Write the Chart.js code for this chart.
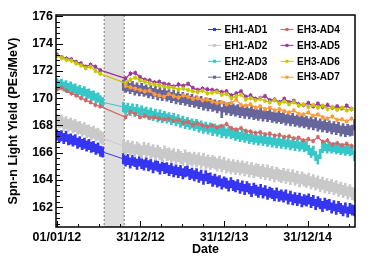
<!DOCTYPE html>
<html>
<head>
<meta charset="utf-8">
<script src="https://cdn.jsdelivr.net/npm/chart.js@4.4.1/dist/chart.umd.min.js"></script>
<style>
  html, body { margin: 0; padding: 0; background: #fff; }
</style>
</head>
<body>
<canvas id="myChart" width="374" height="266"></canvas>
<script>
// axis labels (days counted from 01/01/12)
const tickDays = [0, 365, 730, 1095];
const tickLabels = ['01/01/12', '31/12/12', '31/12/13', '31/12/14'];
const yTicks = [162, 164, 166, 168, 170, 172, 174, 176];
const gapDays = [207, 294]; // period with no data

// sampling of the daily (EH1/EH2) and 3-weekly (EH3) points
function sampleDays(from, to, step) {
  const out = [];
  for (let d = from; d <= to; d += step) out.push(d);
  return out;
}
const dailyA = sampleDays(0, 200, 10);
const dailyB = sampleDays(290, 1300, 10);
const weeklyA = sampleDays(0, 189, 21);
const weeklyB = sampleDays(300, 1287, 21);

// EH1-AD1
const ad1A = [167.3, 167.15, 167.25, 167.05, 167.2, 166.95, 167.0, 166.85, 166.95, 166.7, 166.8,
  166.6, 166.7, 166.5, 166.6, 166.4, 166.45, 166.25, 166.35, 166.1, 166.05];
const ad1B = [165.55, 165.4, 165.5, 165.25, 165.45, 165.35, 165.15, 165.4, 165.2, 165.1,
  165.3, 165.05, 165.15, 164.9, 165.1, 165.0, 164.8, 165.05, 164.85, 164.9,
  164.7, 164.85, 164.6, 164.75, 164.55, 164.7, 164.45, 164.6, 164.65, 164.4,
  164.5, 164.3, 164.45, 164.2, 164.35, 164.05, 164.3, 164.1, 164.15, 163.9,
  164.05, 163.85, 163.95, 163.7, 163.85, 163.75, 163.55, 163.8, 163.6, 163.5,
  163.65, 163.4, 163.55, 163.3, 163.5, 163.35, 163.15, 163.4, 163.25, 163.1,
  163.3, 163.05, 163.2, 162.95, 163.1, 163.0, 162.85, 163.05, 162.8, 162.9,
  162.75, 162.9, 162.6, 162.8, 162.55, 162.7, 162.5, 162.65, 162.4, 162.55,
  162.45, 162.6, 162.35, 162.5, 162.2, 162.4, 162.25, 162.05, 162.3, 162.15,
  162.2, 161.95, 162.1, 161.85, 162.05, 161.9, 161.75, 161.95, 161.65, 161.9,
  161.8, 161.75];

// EH1-AD2
const ad2A = [168.35, 168.25, 168.3, 168.1, 168.2, 168.0, 168.1, 167.9, 168.0, 167.8, 167.85,
  167.65, 167.75, 167.55, 167.6, 167.4, 167.5, 167.3, 167.35, 167.15, 167.05];
const ad2B = [166.5, 166.3, 166.45, 166.25, 166.4, 166.15, 166.35, 166.2, 166.05, 166.3,
  166.1, 166.25, 166.0, 166.15, 165.9, 166.1, 165.95, 165.8, 166.05, 165.85,
  165.9, 165.7, 165.85, 165.6, 165.8, 165.65, 165.5, 165.75, 165.55, 165.6,
  165.45, 165.6, 165.4, 165.55, 165.3, 165.5, 165.25, 165.4, 165.2, 165.35,
  165.25, 165.1, 165.3, 165.05, 165.2, 164.95, 165.1, 164.9, 165.05, 164.85,
  165.0, 164.8, 164.95, 164.75, 164.9, 164.65, 164.85, 164.6, 164.75, 164.7,
  164.55, 164.7, 164.45, 164.65, 164.4, 164.55, 164.3, 164.5, 164.35, 164.25,
  164.4, 164.2, 164.35, 164.1, 164.3, 164.05, 164.2, 163.95, 164.15, 164.0,
  163.9, 164.05, 163.8, 163.95, 163.7, 163.85, 163.6, 163.75, 163.5, 163.65,
  163.45, 163.6, 163.35, 163.5, 163.25, 163.4, 163.15, 163.3, 163.05, 163.2,
  163.0, 162.9];

// EH2-AD3
const ad3A = [171.1, 170.95, 171.05, 170.85, 170.95, 170.75, 170.85, 170.65, 170.7, 170.5, 170.6,
  170.4, 170.5, 170.3, 170.35, 170.15, 170.2, 170.0, 170.05, 169.85, 169.7];
const ad3B = [169.35, 169.15, 169.3, 169.05, 169.25, 169.0, 169.2, 168.95, 169.1, 168.9,
  169.0, 168.8, 168.95, 168.7, 168.85, 168.6, 168.8, 168.55, 168.7, 168.5,
  168.6, 168.4, 168.55, 168.3, 168.45, 168.2, 168.35, 168.1, 168.25, 168.05,
  168.15, 167.95, 168.1, 167.85, 168.0, 167.75, 167.9, 167.7, 167.85, 167.6,
  167.75, 167.55, 167.7, 167.45, 167.6, 167.4, 167.55, 167.35, 167.45, 167.25,
  167.35, 167.15, 167.3, 167.1, 167.25, 167.0, 167.15, 166.95, 167.1, 166.9,
  167.05, 166.85, 167.0, 166.8, 166.95, 166.75, 166.9, 166.7, 166.85, 166.65,
  166.8, 166.6, 166.75, 166.55, 166.7, 166.5, 166.65, 166.45, 166.6, 166.4,
  166.5, 166.2, 166.0, 166.15, 165.75, 165.5, 165.9, 166.35, 166.5, 166.3,
  166.45, 166.3, 166.4, 166.25, 166.35, 166.2, 166.3, 166.15, 166.25, 166.1,
  166.2, 165.75];

// EH2-AD8 (installed after the gap)
const ad8B = [170.95, 170.8, 170.9, 170.7, 170.85, 170.6, 170.75, 170.55, 170.7, 170.5,
  170.6, 170.4, 170.55, 170.35, 170.5, 170.25, 170.4, 170.2, 170.35, 170.15,
  170.25, 170.05, 170.2, 169.95, 170.1, 169.9, 170.05, 169.85, 169.95, 169.75,
  169.9, 169.7, 169.8, 169.6, 169.75, 169.5, 169.65, 169.45, 169.6, 169.4,
  169.5, 169.3, 169.45, 168.95, 169.35, 169.15, 169.3, 169.1, 169.2, 169.05,
  169.15, 168.95, 169.1, 168.9, 169.05, 168.85, 169.0, 168.8, 168.9, 168.75,
  168.9, 168.7, 168.85, 168.65, 168.8, 168.6, 168.7, 168.55, 168.65, 168.5,
  168.6, 168.4, 168.55, 168.35, 168.5, 168.3, 168.4, 168.25, 168.35, 168.2,
  168.3, 168.1, 168.25, 168.05, 168.2, 167.95, 168.1, 167.9, 168.05, 167.85,
  167.95, 167.75, 167.9, 167.7, 167.85, 167.6, 167.75, 167.55, 167.7, 167.6,
  167.65, 168.05];

// EH3-AD4
const ad4A = [170.65, 170.75, 170.55, 170.35, 170.2, 170.0, 169.85, 169.7, 169.5, 169.4];
const ad4B = [168.6, 169.0, 168.85, 168.6, 168.7, 168.55, 168.6, 168.5, 168.45, 168.5,
  168.35, 168.4, 168.2, 168.25, 168.05, 168.15, 168.0, 167.9, 168.0, 167.85,
  167.95, 168.1, 167.8, 167.7, 167.8, 167.6, 167.55, 167.45, 167.5, 167.35,
  167.4, 167.25, 167.3, 167.15, 167.2, 167.05, 167.1, 166.9, 167.0, 166.85,
  167.15, 166.8, 166.9, 166.6, 166.7, 166.55, 166.65, 166.5];

// EH3-AD5
const ad5A = [173.2, 173.0, 172.9, 172.85, 172.65, 172.55, 172.3, 172.45, 172.3, 172.05];
const ad5B = [171.45, 171.8, 171.85, 171.55, 171.35, 171.3, 171.15, 171.2, 171.05, 171.0,
  170.85, 171.0, 170.9, 171.05, 170.75, 170.6, 170.7, 170.65, 170.6, 170.55,
  170.45, 170.5, 170.2, 170.35, 170.5, 170.1, 170.2, 169.95, 170.0, 170.15,
  169.85, 169.9, 169.7, 169.95, 169.7, 169.8, 169.55, 169.5, 169.65, 169.4,
  169.6, 169.35, 169.5, 169.3, 169.4, 169.25, 169.45, 169.2];

// EH3-AD6
const ad6A = [173.1, 172.95, 172.8, 172.75, 172.55, 172.4, 172.2, 172.3, 172.0, 171.8];
const ad6B = [171.1, 171.35, 171.5, 171.3, 171.2, 171.1, 171.0, 170.95, 170.85, 170.8,
  170.75, 170.65, 170.7, 170.6, 170.5, 170.45, 170.55, 170.35, 170.4, 170.45,
  170.25, 170.3, 170.0, 170.15, 170.25, 169.9, 170.0, 169.85, 169.95, 169.8,
  169.7, 169.85, 169.6, 169.75, 169.55, 169.7, 169.45, 169.55, 169.35, 169.5,
  169.3, 169.45, 169.2, 169.35, 169.15, 169.3, 169.1, 169.2];

// EH3-AD7 (installed after the gap)
const ad7B = [170.9, 170.8, 170.7, 170.6, 170.5, 170.55, 170.3, 170.2, 170.1, 170.3,
  170.15, 170.05, 170.2, 170.1, 169.95, 170.0, 169.85, 169.9, 169.75, 169.65,
  169.7, 169.55, 169.65, 169.9, 169.5, 169.45, 169.55, 169.3, 169.4, 169.2,
  169.3, 169.1, 169.2, 169.05, 168.95, 169.1, 168.85, 168.8, 168.95, 168.7,
  168.8, 168.6, 168.5, 168.65, 168.4, 168.45, 168.3, 168.5];

function pts(daysArr, vals) {
  return daysArr.map((d, i) => ({ x: d, y: vals[i] }));
}

const FONT = "'Liberation Sans', Arial, Helvetica, sans-serif";
Chart.defaults.font.family = FONT;
Chart.defaults.color = '#000';

function dense(label, color, data, err) {
  return { label, data, borderColor: color, backgroundColor: color, borderWidth: 1,
    pointRadius: 0, errPx: err, errWidth: 2.7, tension: 0 };
}
function sparse(label, color, data) {
  return { label, data, borderColor: color, backgroundColor: color, borderWidth: 1.3,
    pointStyle: 'rect', pointRadius: 2.4, pointBorderWidth: 0, errPx: 2.4, errWidth: 1, tension: 0 };
}

const datasets = [
  dense('EH1-AD1', '#3636f2', pts(dailyA, ad1A).concat(pts(dailyB, ad1B)), 5.5),
  dense('EH1-AD2', '#c9c9c9', pts(dailyA, ad2A).concat(pts(dailyB, ad2B)), 6.5),
  dense('EH2-AD3', '#36c8c8', pts(dailyA, ad3A).concat(pts(dailyB, ad3B)), 5),
  dense('EH2-AD8', '#66669c', pts(dailyB, ad8B), 5.5),
  sparse('EH3-AD4', '#d06868', pts(weeklyA, ad4A).concat(pts(weeklyB, ad4B))),
  sparse('EH3-AD5', '#9c389c', pts(weeklyA, ad5A).concat(pts(weeklyB, ad5B))),
  sparse('EH3-AD6', '#c8c800', pts(weeklyA, ad6A).concat(pts(weeklyB, ad6B))),
  sparse('EH3-AD7', '#ff9a36', pts(weeklyB, ad7B))
];
// later series are painted on top
datasets.forEach((ds, i) => { ds.order = 20 - i; });

// vertical error bars under every point
const errorBars = {
  id: 'errorBars',
  beforeDatasetDraw(chart, args) {
    const ds = chart.data.datasets[args.index];
    const { ctx, chartArea } = chart;
    ctx.save();
    ctx.beginPath();
    ctx.rect(chartArea.left, chartArea.top, chartArea.right - chartArea.left, chartArea.bottom - chartArea.top);
    ctx.clip();
    ctx.strokeStyle = ds.borderColor;
    ctx.lineWidth = ds.errWidth;
    ctx.beginPath();
    args.meta.data.forEach(p => {
      ctx.moveTo(p.x, p.y - ds.errPx);
      ctx.lineTo(p.x, p.y + ds.errPx);
    });
    ctx.stroke();
    ctx.restore();
  }
};

// shaded period without data
const gapBand = {
  id: 'gapBand',
  beforeDatasetsDraw(chart) {
    const { ctx, chartArea, scales } = chart;
    const x0 = scales.x.getPixelForValue(gapDays[0]);
    const x1 = scales.x.getPixelForValue(gapDays[1]);
    ctx.save();
    ctx.fillStyle = '#dedede';
    ctx.fillRect(x0, chartArea.top, x1 - x0, chartArea.bottom - chartArea.top);
    ctx.strokeStyle = '#aa9c8e';
    ctx.lineWidth = 1.5;
    ctx.setLineDash([2, 2]);
    ctx.beginPath();
    ctx.moveTo(x0, chartArea.top); ctx.lineTo(x0, chartArea.bottom);
    ctx.moveTo(x1, chartArea.top); ctx.lineTo(x1, chartArea.bottom);
    ctx.stroke();
    ctx.restore();
  }
};

// ROOT style frame with inside ticks
const frame = {
  id: 'frame',
  afterDatasetsDraw(chart) {
    const { ctx, chartArea: a, scales } = chart;
    ctx.save();
    ctx.strokeStyle = '#000';
    ctx.lineWidth = 1.5;
    ctx.strokeRect(a.left, a.top, a.right - a.left, a.bottom - a.top);
    ctx.lineWidth = 1;
    ctx.beginPath();
    for (let i = 0; ; i++) {
      const v = 160.8 + 0.4 * i;
      if (v > 176.05) break;
      const y = Math.round(scales.y.getPixelForValue(v)) + 0.5;
      const major = Math.abs(v / 2 - Math.round(v / 2)) < 0.01;
      ctx.moveTo(a.left, y);
      ctx.lineTo(a.left + (major ? 7 : 4), y);
    }
    for (let i = 0; ; i++) {
      const d = 91.25 * i;
      if (d > 1302) break;
      const x = Math.round(scales.x.getPixelForValue(d)) + 0.5;
      const major = i % 4 === 0;
      ctx.moveTo(x, a.bottom);
      ctx.lineTo(x, a.bottom - (major ? 6 : 3));
    }
    ctx.stroke();
    ctx.restore();
  }
};

// two column legend inside the frame
const legendBox = {
  id: 'legendBox',
  afterDraw(chart) {
    const ctx = chart.ctx;
    const colX = [208, 280.5];
    ctx.save();
    ctx.font = 'bold 10px ' + FONT;
    ctx.textBaseline = 'middle';
    chart.data.datasets.forEach((ds, i) => {
      const x = colX[Math.floor(i / 4)];
      const y = 29.5 + (i % 4) * 15.9;
      ctx.strokeStyle = ds.borderColor;
      ctx.lineWidth = 1;
      ctx.beginPath();
      ctx.moveTo(x, y); ctx.lineTo(x + 13, y);
      ctx.stroke();
      ctx.fillStyle = ds.borderColor;
      ctx.fillRect(x + 5, y - 1.5, 3, 3);
      ctx.fillStyle = '#000';
      ctx.fillText(ds.label, x + 16.5, y + 0.5);
    });
    ctx.restore();
  }
};

const config = {
  type: 'line',
  data: { datasets },
  options: {
    responsive: false,
    animation: false,
    devicePixelRatio: 1,
    events: [],
    layout: { padding: { left: 0, right: 19, top: 15, bottom: 0 } },
    plugins: { legend: { display: false }, tooltip: { enabled: false } },
    scales: {
      x: {
        type: 'linear',
        min: -4,
        max: 1302,
        afterFit: s => { s.height = 39; },
        afterBuildTicks: s => { s.ticks = tickDays.map(v => ({ value: v })); },
        grid: { display: false, drawTicks: false },
        border: { display: false },
        ticks: {
          autoSkip: false, maxRotation: 0, padding: 3,
          font: { size: 12.5, weight: 'bold' },
          callback: v => tickLabels[tickDays.indexOf(v)]
        },
        title: { display: true, text: 'Date', font: { size: 12.5, weight: 'bold', lineHeight: 1.2 },
          padding: { top: 0, bottom: 8.5 } }
      },
      y: {
        min: 160.55,
        max: 176.1,
        afterFit: s => { s.width = 56; },
        afterBuildTicks: s => { s.ticks = yTicks.map(v => ({ value: v })); },
        grid: { display: false, drawTicks: false },
        border: { display: false },
        ticks: { padding: 3, font: { size: 12.5, weight: 'bold' } },
        title: { display: true, text: 'Spn-n Light Yield (PEs/MeV)',
          font: { size: 12.5, weight: 'bold', lineHeight: 1.2 }, padding: { top: 6.3, bottom: 0 } }
      }
    }
  },
  plugins: [errorBars, gapBand, frame, legendBox]
};

const myChart = new Chart(document.getElementById('myChart'), config);
</script>
</body>
</html>
